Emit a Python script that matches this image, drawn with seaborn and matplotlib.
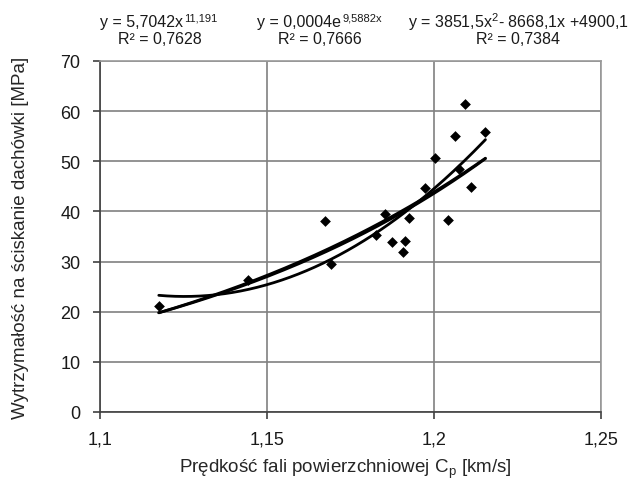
import numpy as np
import pandas as pd
import matplotlib
matplotlib.use("Agg")
import matplotlib.pyplot as plt
from matplotlib.ticker import FuncFormatter
import seaborn as sns

# measured points
cp = [1.1176, 1.1444, 1.1674, 1.1693, 1.1825, 1.1853, 1.1874, 1.1906, 1.1914,
      1.1925, 1.1972, 1.2004, 1.2043, 1.2062, 1.2074, 1.2094, 1.2112, 1.2154]
strength = [21.1, 26.3, 38.1, 29.5, 35.3, 39.5, 33.9, 31.9, 34.2,
            38.7, 44.7, 50.7, 38.3, 55.1, 48.4, 61.5, 44.9, 55.9]

# trendline coefficients (Excel)
power_coef = [5.7042, 11.191]
exp_coef = [0.000439, 9.5882]
poly_coef = [3851.5, -8668.1, 4900.1]

x_ticks = [1.1, 1.15, 1.2, 1.25]
y_ticks = [0, 10, 20, 30, 40, 50, 60, 70]

sns.set_style("white")
plt.rcParams['font.family'] = ['Liberation Sans', 'DejaVu Sans']
plt.rcParams['text.color'] = '#1a1a1a'

fig = plt.figure(figsize=(6.33, 4.81), dpi=100)
ax = fig.add_axes([100 / 633, 1 - 413 / 481, 501 / 633, 351 / 481])

data = pd.DataFrame({'cp': cp, 'r': strength})
xs = np.linspace(min(cp), max(cp), 200)
fits = {
    'power': power_coef[0] * xs ** power_coef[1],
    'exp': exp_coef[0] * np.exp(exp_coef[1] * xs),
    'poly': np.polyval(poly_coef, xs),
}
for name, ys in fits.items():
    sns.lineplot(x=xs, y=ys, color='black', lw=2.0, ax=ax, zorder=3)

sns.scatterplot(data=data, x='cp', y='r', marker='D', s=30, color='black',
                edgecolor='black', linewidth=0, ax=ax, zorder=4)

ax.set_xlim(1.1, 1.25)
ax.set_ylim(0, 70)
ax.set_xticks(x_ticks)
ax.set_yticks(y_ticks)
ax.xaxis.set_major_formatter(FuncFormatter(lambda v, p: ('%g' % v).replace('.', ',')))
ax.yaxis.set_major_formatter(FuncFormatter(lambda v, p: '%g' % v))
ax.grid(True, color='#808080', lw=1.2)
ax.set_axisbelow(True)
for side in ['top', 'right']:
    ax.spines[side].set_color('#999999')
    ax.spines[side].set_linewidth(1.2)
for side in ['left', 'bottom']:
    ax.spines[side].set_color('#404040')
    ax.spines[side].set_linewidth(1.2)
ax.tick_params(axis='both', direction='out', length=5, width=1.2, color='#404040',
               labelsize=13, labelcolor='#1a1a1a', bottom=True, left=True)
ax.tick_params(axis='x', pad=8)
ax.tick_params(axis='y', pad=9)

ax.set_xlabel('Prędkość fali powierzchniowej C$_\\mathregular{p}$ [km/s]', fontsize=13.5)
ax.set_ylabel('Wytrzymałość na ściskanie dachówki [MPa]', fontsize=13.5)
ax.xaxis.set_label_coords(0.49, -0.128)
ax.yaxis.set_label_coords(-0.142, 0.5)

# trendline equations above the plot
fs = 11.5
y1, y2 = 1 - 22 / 481, 1 - 40 / 481
t1 = fig.text(100 / 633, y1, 'y = 5,7042x', fontsize=fs, ha='left', va='center')
ax.annotate('11,191', xy=(1, 1), xycoords=t1, xytext=(1, 1), textcoords='offset points',
            ha='left', va='top', fontsize=8, annotation_clip=False)
fig.text(160 / 633, y2, 'R² = 0,7628', fontsize=fs, ha='center', va='center')

t2 = fig.text(257 / 633, y1, 'y = 0,0004e', fontsize=fs, ha='left', va='center')
ax.annotate('9,5882x', xy=(1, 1), xycoords=t2, xytext=(1, 1), textcoords='offset points',
            ha='left', va='top', fontsize=8, annotation_clip=False)
fig.text(320 / 633, y2, 'R² = 0,7666', fontsize=fs, ha='center', va='center')

fig.text(518 / 633, y1, 'y = 3851,5x$^\\mathregular{2}$- 8668,1x +4900,1', fontsize=fs,
         ha='center', va='center')
fig.text(518 / 633, y2, 'R² = 0,7384', fontsize=fs, ha='center', va='center')

fig.savefig('out.png', dpi=100)
